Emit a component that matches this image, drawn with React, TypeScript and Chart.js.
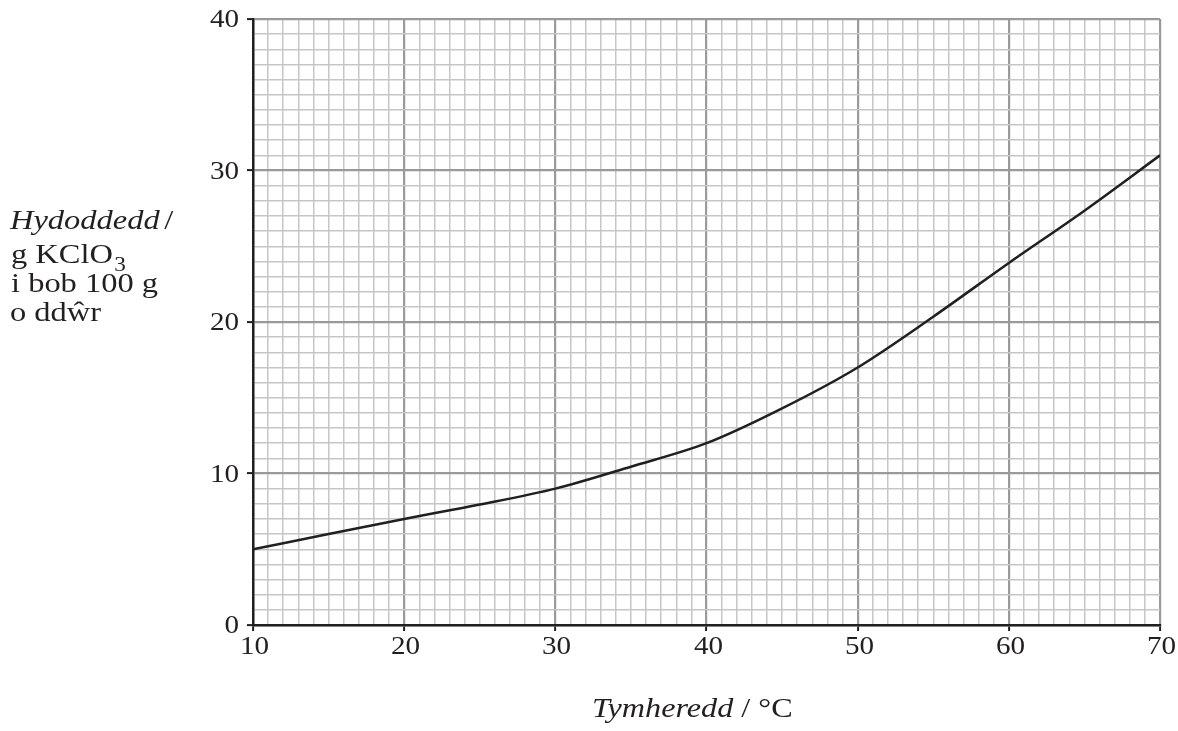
import React, { useEffect, useRef, useState } from "react";
import { Chart, registerables } from "chart.js";

Chart.register(...registerables);

const temperatures = [10, 15, 20, 25, 30, 35, 40, 45, 50, 55, 60, 65, 70];
const solubility = [5.0, 6.0, 7.0, 7.95, 9.0, 10.45, 12.0, 14.3, 17.0, 20.35, 23.9, 27.35, 31.0];
const xTickLabels = [10, 20, 30, 40, 50, 60, 70];
const yTickLabels = [0, 10, 20, 30, 40];
const yTitleItalic = "Hydoddedd";
const yTitleFormula = "g KClO";
const yTitleSub = "3";
const yTitleLine3 = "i bob 100 g";
const yTitleLine4 = "o ddŵr";
const xTitleItalic = "Tymheredd";
const xTitleRoman = " / °C";

const INK = "#231f20";
const MAJOR = "#9a9a9a";
const MINOR = "#c6c6c6";
const SERIF = '"Liberation Serif", "Times New Roman", serif';

const bgPlugin = {
  id: "bg",
  beforeDraw(chart: any) {
    const ctx = chart.ctx;
    ctx.save();
    ctx.fillStyle = "#ffffff";
    ctx.fillRect(0, 0, chart.width, chart.height);
    ctx.restore();
  },
};

const isMajor = (ctx: any) => ctx.tick && Math.round(ctx.tick.value) % 10 === 0;

type TickPos = { v: number; px: number };

const textBase: React.CSSProperties = {
  position: "absolute",
  fontFamily: SERIF,
  color: INK,
  whiteSpace: "nowrap",
  lineHeight: 1,
};

export default function App() {
  const ref = useRef<HTMLCanvasElement | null>(null);
  const [xt, setXt] = useState<TickPos[]>([]);
  const [yt, setYt] = useState<TickPos[]>([]);

  useEffect(() => {
    if (!ref.current) return;
    const chart = new Chart(ref.current, {
      type: "line",
      data: {
        datasets: [
          {
            data: temperatures.map((t, i) => ({ x: t, y: solubility[i] })),
            borderColor: INK,
            borderWidth: 2.5,
            pointRadius: 0,
            cubicInterpolationMode: "monotone",
            fill: false,
          },
        ],
      },
      options: {
        animation: false,
        responsive: false,
        events: [],
        layout: { padding: { left: 0, right: 18, top: 19, bottom: 0 } },
        plugins: { legend: { display: false }, tooltip: { enabled: false }, title: { display: false } },
        scales: {
          x: {
            type: "linear",
            min: 10,
            max: 70,
            afterFit: (s: any) => {
              s.height = 106;
              s.paddingLeft = 0;
              s.paddingRight = 0;
            },
            ticks: { stepSize: 1, autoSkip: false, maxRotation: 0, display: false },
            grid: {
              color: (c: any) => (isMajor(c) ? MAJOR : MINOR),
              lineWidth: (c: any) => (isMajor(c) ? 2.2 : 1.5),
              tickColor: (c: any) => (isMajor(c) ? INK : "rgba(0,0,0,0)"),
              tickWidth: 2,
              tickLength: 6,
            },
            border: { display: true, color: INK, width: 2.5 },
          },
          y: {
            type: "linear",
            min: 0,
            max: 40,
            afterFit: (s: any) => {
              s.width = 253;
              s.paddingTop = 0;
              s.paddingBottom = 0;
            },
            ticks: { stepSize: 1, autoSkip: false, display: false },
            grid: {
              color: (c: any) => (isMajor(c) ? MAJOR : MINOR),
              lineWidth: (c: any) => (isMajor(c) ? 2.2 : 1.5),
              tickColor: (c: any) => (isMajor(c) ? INK : "rgba(0,0,0,0)"),
              tickWidth: 2,
              tickLength: 6,
            },
            border: { display: true, color: INK, width: 2.5 },
          },
        },
      } as any,
      plugins: [bgPlugin],
    });
    const sx: any = chart.scales.x;
    const sy: any = chart.scales.y;
    setXt(xTickLabels.map((v) => ({ v, px: sx.getPixelForValue(v) })));
    setYt(yTickLabels.map((v) => ({ v, px: sy.getPixelForValue(v) })));
    return () => chart.destroy();
  }, []);

  const tickFont = 26;
  const titleFont = 28;
  const tickBaseOff = 0.8375 * tickFont;
  const titleBaseOff = 0.8375 * titleFont;
  const titleTop = (baseline: number) => baseline - titleBaseOff;

  return (
    <div style={{ position: "fixed", left: 0, top: 0, width: 1178, height: 731, background: "#fff" }}>
      <canvas ref={ref} width={1178} height={731} style={{ display: "block", width: 1178, height: 731 }} />
      {yt.map((t) => (
        <div
          key={"y" + t.v}
          style={{
            ...textBase,
            fontSize: tickFont,
            right: 1178 - 239,
            top: t.px + 0.338 * tickFont - tickBaseOff,
            textAlign: "right",
            transform: "scaleX(1.12)",
            transformOrigin: "right center",
          }}
        >
          {String(t.v)}
        </div>
      ))}
      {xt.map((t) => (
        <div
          key={"x" + t.v}
          style={{
            ...textBase,
            fontSize: tickFont,
            left: t.px,
            top: 654.5 - tickBaseOff,
            transform: "translateX(-50%) scaleX(1.12)",
            transformOrigin: "left center",
          }}
        >
          {String(t.v)}
        </div>
      ))}
      <div style={{ ...textBase, fontSize: titleFont, left: 10, top: titleTop(229), transform: "scaleX(1.16)", transformOrigin: "left center" }}>
        <i>{yTitleItalic}</i>
        <span style={{ marginLeft: 4 }}>/</span>
      </div>
      <div style={{ ...textBase, fontSize: titleFont, left: 11, top: titleTop(263), transform: "scaleX(1.16)", transformOrigin: "left center" }}>
        {yTitleFormula}
        <span style={{ fontSize: 20, position: "relative", top: 8, marginLeft: 1 }}>{yTitleSub}</span>
      </div>
      <div style={{ ...textBase, fontSize: titleFont, left: 11, top: titleTop(292), transform: "scaleX(1.16)", transformOrigin: "left center" }}>
        {yTitleLine3}
      </div>
      <div style={{ ...textBase, fontSize: titleFont, left: 10, top: titleTop(321), transform: "scaleX(1.16)", transformOrigin: "left center" }}>
        {yTitleLine4}
      </div>
      <div style={{ ...textBase, fontSize: titleFont, left: 592, top: titleTop(717), transform: "scaleX(1.15)", transformOrigin: "left center" }}>
        <i>{xTitleItalic}</i>
        <span style={{ whiteSpace: "pre" }}>{xTitleRoman}</span>
      </div>
    </div>
  );
}
